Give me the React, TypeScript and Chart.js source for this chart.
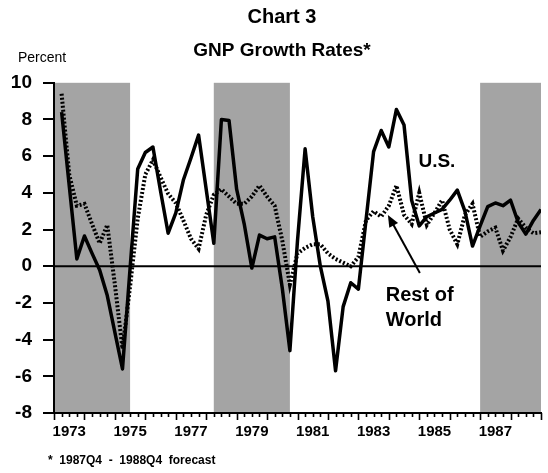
import React, { useEffect, useRef } from 'react';
import { Chart, registerables } from 'chart.js';

Chart.register(...registerables);

// ---- Data (quarterly, 1973Q1 - 1988Q4, annualised % growth) ----
const years = [1973, 1974, 1975, 1976, 1977, 1978, 1979, 1980, 1981, 1982, 1983, 1984, 1985, 1986, 1987, 1988];

const usGrowth = [
  8.4, 4.4, 0.4, 1.65, // 1973
  0.7, -0.2, -1.6, -3.6, // 1974
  -5.6, -0.1, 5.3, 6.2, // 1975
  6.5, 4.1, 1.8, 2.9, // 1976
  4.7, 5.9, 7.15, 4.2, // 1977
  1.25, 8.0, 7.95, 4.2, // 1978
  2.3, -0.1, 1.7, 1.5, // 1979
  1.6, -1.2, -4.6, 1.4, // 1980
  6.4, 2.7, 0.0, -1.9, // 1981
  -5.7, -2.2, -0.9, -1.25, // 1982
  2.5, 6.25, 7.4, 6.5, // 1983
  8.55, 7.7, 3.6, 2.2, // 1984
  2.7, 2.9, 3.1, 3.6, // 1985
  4.15, 3.0, 1.1, 2.2, // 1986
  3.25, 3.45, 3.3, 3.6, // 1987
  2.4, 1.75, 2.5, 3.1, // 1988
];

const restOfWorldGrowth = [
  9.4, 5.0, 3.3, 3.4, // 1973
  2.3, 1.25, 2.25, -1.0, // 1974
  -4.5, -1.1, 2.6, 5.0, // 1975
  5.8, 4.85, 3.95, 3.45, // 1976
  2.5, 1.5, 0.95, 2.8, // 1977
  3.9, 4.2, 3.8, 3.4, // 1978
  3.4, 3.8, 4.4, 3.8, // 1979
  3.3, 1.4, -1.0, 0.7, // 1980
  1.0, 1.2, 1.2, 0.7, // 1981
  0.4, 0.2, 0.0, 0.5, // 1982
  2.5, 3.0, 2.7, 3.3, // 1983
  4.4, 2.8, 2.3, 4.0, // 1984
  2.25, 2.9, 3.6, 2.0, // 1985
  1.2, 2.8, 3.4, 1.6, // 1986
  1.9, 2.1, 0.85, 1.6, // 1987
  2.6, 2.1, 1.8, 1.85, // 1988
];

const yearTickLabels = ['1973', '1975', '1977', '1979', '1981', '1983', '1985', '1987'];
const yTickValues = [-8, -6, -4, -2, 0, 2, 4, 6, 8, 10];
const shadedStarts = [1973.0, 1978.25, 1987.0];
const shadedEnds = [1975.5, 1980.75, 1989.0];

const titleText = 'Chart 3';
const subtitleText = 'GNP Growth Rates*';
const yUnitText = 'Percent';
const footnoteText = '*  1987Q4  -  1988Q4  forecast';
const usLabel = 'U.S.';
const rowLabelLines = ['Rest of', 'World'];

// quarter end positions on the year axis
const quarterX: number[] = [];
years.forEach((yr) => {
  [1, 2, 3, 4].forEach((q) => quarterX.push(yr + q / 4));
});

const FONT = "'Liberation Sans', Arial, Helvetica, sans-serif";
const SHADE = '#a4a4a4';
const TITLE_LEFT = 16;

const decorPlugin = {
  id: 'decor',
  afterLayout(chart: any) {
    // centre the title block over the plotted page area like the original
    (chart.boxes || []).forEach((b: any) => {
      if (b && b.options && typeof b.options.text === 'string' && !b.axis) {
        b.left = TITLE_LEFT;
        b.right = chart.width;
        b.width = b.right - b.left;
      }
    });
  },
  beforeDraw(chart: any) {
    const { ctx, chartArea: a, scales } = chart;
    const x = scales.x;
    const y = scales.y;
    ctx.save();
    ctx.fillStyle = SHADE;
    shadedStarts.forEach((s, i) => {
      const x0 = x.getPixelForValue(s);
      const x1 = x.getPixelForValue(shadedEnds[i]);
      ctx.fillRect(x0, a.top, x1 - x0, a.bottom - a.top);
    });
    const y0 = y.getPixelForValue(0);
    ctx.strokeStyle = '#000';
    ctx.lineWidth = 2;
    ctx.beginPath();
    ctx.moveTo(a.left, y0);
    ctx.lineTo(a.right, y0);
    ctx.stroke();
    ctx.restore();
  },
  afterDraw(chart: any) {
    const { ctx, chartArea: a, scales } = chart;
    const x = scales.x;
    const y = scales.y;
    ctx.save();
    // quarterly tick marks on the time axis
    ctx.strokeStyle = '#000';
    ctx.lineWidth = 1.6;
    for (let q = 0; q <= 64; q++) {
      const v = 1973 + q / 4;
      const px = Math.round(x.getPixelForValue(v)) + 0.5;
      const len = q % 4 === 0 ? 7 : 4;
      ctx.beginPath();
      ctx.moveTo(px, a.bottom);
      ctx.lineTo(px, a.bottom + len);
      ctx.stroke();
    }

    // unit label
    ctx.fillStyle = '#000';
    ctx.textBaseline = 'middle';
    ctx.textAlign = 'left';
    ctx.font = `14px ${FONT}`;
    ctx.fillText(yUnitText, 18, 58);

    // series labels
    ctx.font = `bold 19px ${FONT}`;
    ctx.textAlign = 'center';
    ctx.fillText(usLabel, x.getPixelForValue(1985.58), y.getPixelForValue(5.7));
    ctx.font = `bold 20px ${FONT}`;
    ctx.textAlign = 'left';
    ctx.fillText(rowLabelLines[0], x.getPixelForValue(1983.9), y.getPixelForValue(-1.6));
    ctx.fillText(rowLabelLines[1], x.getPixelForValue(1983.9), y.getPixelForValue(-2.95));

    // arrow
    const sx = x.getPixelForValue(1985.02);
    const sy = y.getPixelForValue(-0.37);
    const ex = x.getPixelForValue(1983.97);
    const ey = y.getPixelForValue(2.8);
    const ang = Math.atan2(ey - sy, ex - sx);
    const headLen = 12;
    const headW = 5;
    ctx.lineWidth = 2;
    ctx.beginPath();
    ctx.moveTo(sx, sy);
    ctx.lineTo(ex - Math.cos(ang) * headLen * 0.8, ey - Math.sin(ang) * headLen * 0.8);
    ctx.stroke();
    ctx.beginPath();
    ctx.moveTo(ex, ey);
    ctx.lineTo(ex - Math.cos(ang) * headLen + Math.sin(ang) * headW, ey - Math.sin(ang) * headLen - Math.cos(ang) * headW);
    ctx.lineTo(ex - Math.cos(ang) * headLen - Math.sin(ang) * headW, ey - Math.sin(ang) * headLen + Math.cos(ang) * headW);
    ctx.closePath();
    ctx.fill();

    // footnote
    ctx.font = `bold 12px ${FONT}`;
    ctx.textAlign = 'left';
    ctx.fillText(footnoteText, 48, 461);
    ctx.restore();
  },
};

export default function App() {
  const ref = useRef<HTMLCanvasElement | null>(null);

  useEffect(() => {
    if (!ref.current) return;
    const chart = new Chart(ref.current, {
      type: 'line',
      data: {
        datasets: [
          {
            label: 'U.S.',
            data: usGrowth.map((v, i) => ({ x: quarterX[i], y: v })),
            borderColor: '#000',
            borderWidth: 3.5,
            pointRadius: 0,
            tension: 0,
            borderJoinStyle: 'round',
            fill: false,
          },
          {
            label: 'Rest of World',
            data: restOfWorldGrowth.map((v, i) => ({ x: quarterX[i], y: v })),
            borderColor: '#000',
            borderWidth: 4,
            borderDash: [2, 2],
            borderCapStyle: 'butt',
            pointRadius: 0,
            tension: 0,
            fill: false,
          },
        ],
      },
      options: {
        responsive: false,
        animation: false,
        events: [],
        layout: { padding: { left: 0, right: 7, top: 0, bottom: 0 } },
        plugins: {
          legend: { display: false },
          tooltip: { enabled: false },
          title: {
            display: true,
            text: titleText,
            color: '#000',
            font: { family: FONT, size: 20, weight: 'bold', lineHeight: 1.2 },
            padding: { top: 5, bottom: 0 },
          },
          subtitle: {
            display: true,
            text: subtitleText,
            color: '#000',
            font: { family: FONT, size: 19, weight: 'bold', lineHeight: 1.2 },
            padding: { top: 10, bottom: 21 },
          },
        },
        scales: {
          x: {
            type: 'linear',
            min: 1973,
            max: 1989,
            afterFit: (scale: any) => {
              scale.height = 60;
            },
            afterBuildTicks: (scale: any) => {
              scale.ticks = yearTickLabels.map((t) => ({ value: Number(t) + 0.5 }));
            },
            grid: { display: false, drawTicks: false },
            border: { display: true, color: '#000', width: 2 },
            ticks: {
              autoSkip: false,
              maxRotation: 0,
              color: '#000',
              padding: 10,
              font: { family: FONT, size: 15, weight: 'bold' },
              callback: (v: any) => {
                const idx = yearTickLabels.indexOf(String(Math.floor(Number(v))));
                return idx >= 0 ? yearTickLabels[idx] : '';
              },
            },
          },
          y: {
            type: 'linear',
            min: -8,
            max: 10,
            afterFit: (scale: any) => {
              scale.width = 54;
            },
            afterBuildTicks: (scale: any) => {
              scale.ticks = yTickValues.map((v) => ({ value: v }));
            },
            grid: {
              drawOnChartArea: false,
              drawTicks: true,
              tickLength: 11,
              tickColor: '#000',
              tickWidth: 2,
              color: '#000',
              lineWidth: 2,
            },
            border: { display: true, color: '#000', width: 2 },
            ticks: {
              color: '#000',
              padding: 11,
              font: { family: FONT, size: 19, weight: 'bold' },
              callback: (v: any) => String(v),
            },
          },
        },
      },
      plugins: [decorPlugin],
    } as any);
    return () => chart.destroy();
  }, []);

  return (
    <div style={{ position: 'fixed', left: 0, top: 0, width: 548, height: 473, background: '#fff' }}>
      <canvas ref={ref} width={548} height={473} style={{ display: 'block' }} />
    </div>
  );
}
